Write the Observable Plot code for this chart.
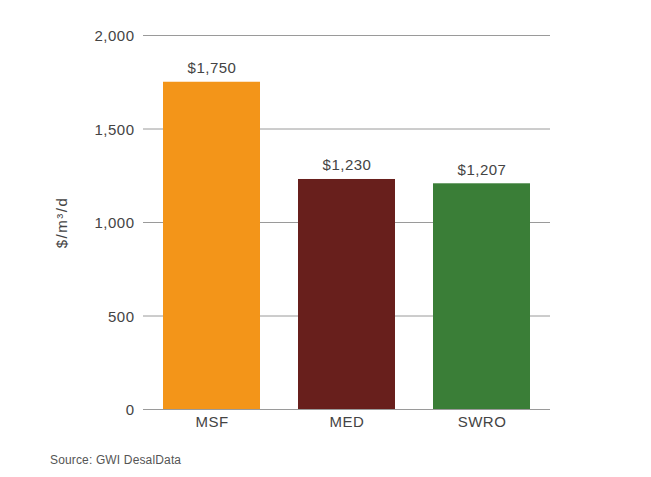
<!DOCTYPE html>
<html>
<head>
<meta charset="utf-8">
<script src="https://cdn.jsdelivr.net/npm/d3@7"></script>
<script src="https://cdn.jsdelivr.net/npm/@observablehq/plot@0.6"></script>
<style>
  html, body { margin: 0; padding: 0; background: #fff; }
  #wrap { position: relative; width: 651px; height: 477px; font-family: "Liberation Sans", Arial, sans-serif; }
  #caption { position: absolute; left: 50px; top: 453px; font-size: 12px; letter-spacing: 0.15px; color: #555; }
  #chart svg text { letter-spacing: 0.5px; }
  #chart svg g.ylab text { letter-spacing: 1.5px; }
</style>
</head>
<body>
<div id="wrap">
  <div id="chart"></div>
  <div id="caption">Source: GWI DesalData</div>
</div>
<script>
const categories = ["MSF", "MED", "SWRO"];
const values = [1750, 1230, 1207];
const labels = ["$1,750", "$1,230", "$1,207"];
const colors = ["#F39519", "#681F1C", "#3A7E37"];
const yTicks = [0, 500, 1000, 1500, 2000];

const data = categories.map((c, i) => ({cat: c, value: values[i], label: labels[i]}));

const chart = Plot.plot({
  width: 651,
  height: 445,
  marginTop: 35,
  marginBottom: 36,
  marginLeft: 143,
  marginRight: 101,
  style: {fontFamily: "'Liberation Sans', Arial, sans-serif", fontSize: "15px", color: "#444", background: "#fff"},
  x: {domain: categories, paddingInner: 0.28, paddingOuter: 0.14, label: null},
  y: {domain: [0, 2000], label: null},
  color: {domain: categories, range: colors},
  marks: [
    Plot.ruleY(yTicks, {stroke: "#9a9a9a", strokeWidth: 1, strokeOpacity: 1}),
    Plot.barY(data, {x: "cat", y: "value", fill: "cat"}),
    Plot.text(data, {x: "cat", y: "value", text: "label", dy: -14, fontSize: 15, fill: "#444"}),
    Plot.axisY(yTicks, {tickSize: 0, tickPadding: 9, dy: 1, tickFormat: d3.format(","), fontSize: 15, fill: "#444", label: null}),
    Plot.axisX({tickSize: 0, tickPadding: 7, fontSize: 15, fill: "#444", label: null}),
    Plot.text(["$/m³/d"], {frameAnchor: "left", textAnchor: "middle", dx: -81, rotate: -90, fontSize: 15, fill: "#444", className: "ylab"})
  ]
});
document.getElementById("chart").appendChild(chart);
</script>
</body>
</html>
